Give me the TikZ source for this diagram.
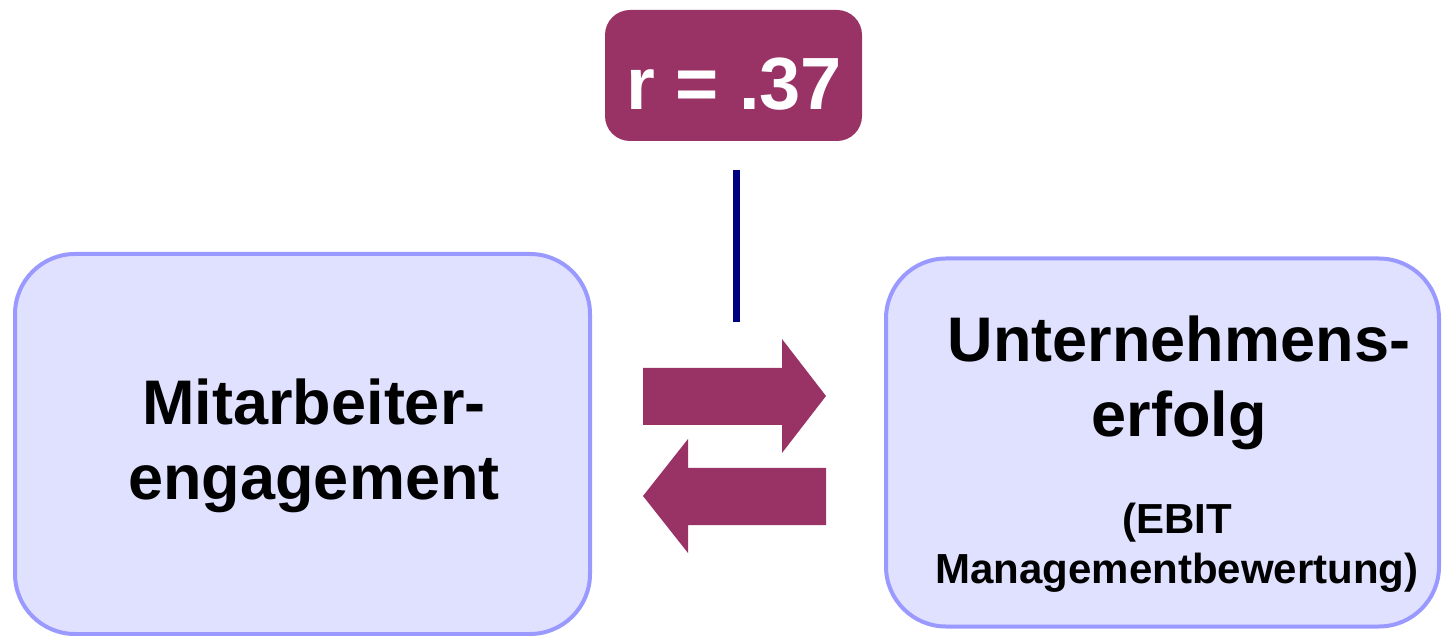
\documentclass[tikz,border=0pt]{standalone}
\usepackage{fontspec}
\setmainfont{Liberation Sans}
\usepackage{tikz}
\usetikzlibrary{positioning}
\usepackage{xcolor}
\definecolor{plum}{RGB}{153,51,102}
\definecolor{boxfill}{RGB}{224,224,255}
\definecolor{boxline}{RGB}{153,153,255}
\definecolor{linenavy}{RGB}{0,0,128}

\begin{document}
\begin{tikzpicture}[x=0.5pt,y=-0.5pt]
  \tikzstyle{every node}=[inner sep=0pt]
  \tikzstyle{factor}=[draw=boxline,fill=boxfill,line width=2pt,rounded corners=30pt]
  \tikzstyle{big}=[font=\fontsize{31.5}{37.5}\selectfont\bfseries,align=center,anchor=base]
  \tikzstyle{small}=[font=\fontsize{21}{25}\selectfont\bfseries,align=center,anchor=base]

  \useasboundingbox (0,0) rectangle (1442,636);

  \node[factor,minimum width=287.5pt,minimum height=190pt] (m_eng) at (302.5,444)   {};
  \node[factor,minimum width=276.5pt,minimum height=184pt] (u_erf) at (1162.5,442.5) {};
  \node[fill=plum,rounded corners=12.5pt,minimum width=128.5pt,minimum height=65.5pt]
                                                           (r_val) at (733.5,75.5)  {};

  \node[big]   (t_m)    at (314,500)  {Mitarbeiter-\\engagement};
  \node[big]   (t_u)    at (1179,437) {Unternehmens-\\erfolg};
  \node[small] (t_ebit) at (1177,583) {(EBIT\\Managementbewertung)};
  \node[font=\fontsize{37}{44}\selectfont\bfseries,text=white,anchor=base]
               (t_r)    at (734,110)  {r = .37};

  \coordinate (l_top) at (736,170);
  \coordinate (l_bot) at (736,322);
  \draw[linenavy,line width=3.5pt] (l_top) -- (l_bot);

  % arrows both ways
  \fill[plum] (643,368) -- (782,368) -- (782,339) -- (826,396)
              -- (782,453) -- (782,425) -- (643,425) -- cycle;
  \fill[plum] (826,468) -- (688,468) -- (688,439) -- (643,496)
              -- (688,553) -- (688,525) -- (826,525) -- cycle;
\end{tikzpicture}
\end{document}
